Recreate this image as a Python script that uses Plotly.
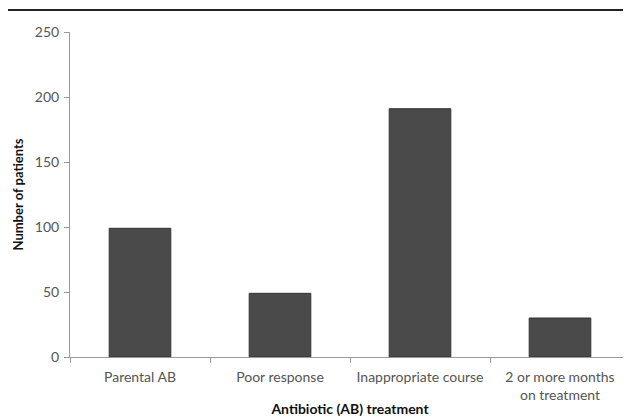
import plotly.graph_objects as go

categories = ["Parental AB", "Poor response", "Inappropriate course", "2 or more months<br>on treatment"]
patients = [99, 49, 191, 30]
y_ticks = [0, 50, 100, 150, 200, 250]

fig = go.Figure()
fig.add_trace(go.Bar(
    x=categories, y=patients,
    marker=dict(color="#4a4a4a", line=dict(color="#333333", width=1)),
    width=0.44,
))

# rule across the top of the figure
fig.add_shape(type="line", xref="paper", yref="paper",
              x0=-0.12, x1=1.05, y0=1.068, y1=1.068,
              line=dict(color="#222222", width=2))

fig.update_layout(
    width=623, height=411,
    margin=dict(l=62, r=1, t=24, b=62, autoexpand=False),
    paper_bgcolor="white", plot_bgcolor="white",
    font=dict(family="Lato, Open Sans, sans-serif", size=14, color="#555555"),
    showlegend=False,
    xaxis=dict(
        showline=True, linecolor="#999999", linewidth=1,
        ticks="outside", tickson="boundaries", ticklen=5, tickcolor="#999999",
        ticklabelstandoff=7,
        tickfont=dict(size=14, color="#555555"),
        title=dict(text="<b>Antibiotic (AB) treatment</b>", font=dict(size=14, color="#111111"), standoff=2),
        range=[-0.5, 3.5], automargin=False,
    ),
    yaxis=dict(
        range=[0, 250], tickvals=y_ticks,
        showline=True, linecolor="#999999", linewidth=1,
        ticks="outside", ticklen=5, tickcolor="#999999",
        ticklabelstandoff=2,
        showgrid=False, zeroline=False,
        tickfont=dict(size=14, color="#555555"),
        title=dict(text="<b>Number of patients</b>", font=dict(size=13, color="#111111"), standoff=8),
        automargin=False,
    ),
)

fig.write_html("out.html")
